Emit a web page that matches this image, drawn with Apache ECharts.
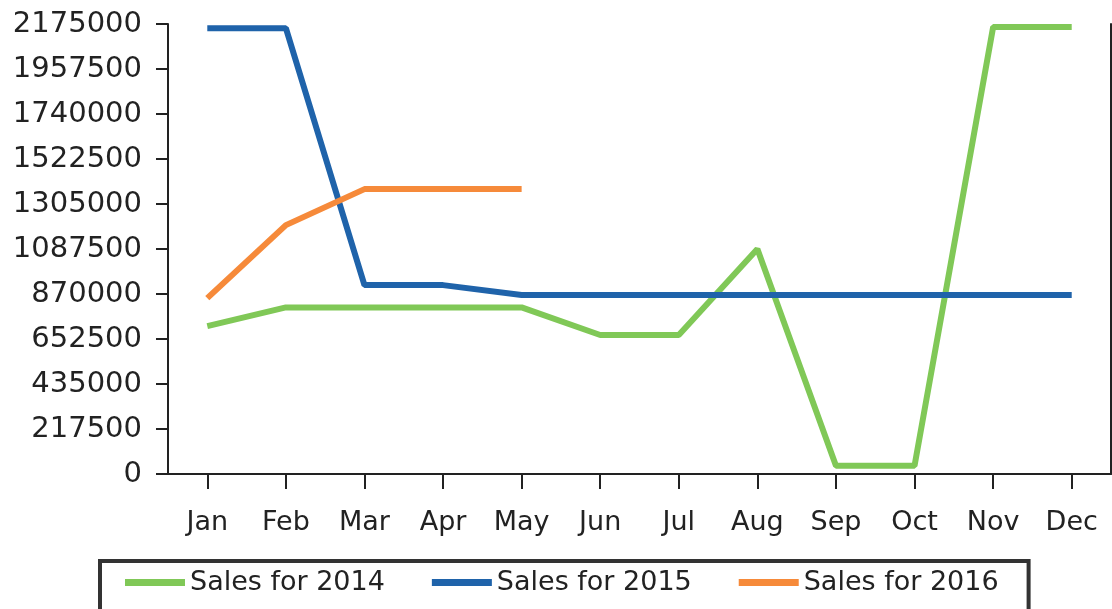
<!DOCTYPE html>
<html>
<head>
<meta charset="utf-8">
<script src="https://cdn.jsdelivr.net/npm/echarts@6/dist/echarts.min.js"></script>
<style>
  html, body { margin: 0; padding: 0; background: #fff; }
  #myChart { width: 1112px; height: 609px; }
</style>
</head>
<body>
<div id="myChart"></div>
<script>
const months = ['Jan', 'Feb', 'Mar', 'Apr', 'May', 'Jun', 'Jul', 'Aug', 'Sep', 'Oct', 'Nov', 'Dec']
const yTicks = [0, 217500, 435000, 652500, 870000, 1087500, 1305000, 1522500, 1740000, 1957500, 2175000]
const sales2014 = [715000, 805000, 805000, 805000, 805000, 672000, 672000, 1087500, 40000, 40000, 2160000, 2160000]
const sales2015 = [2155000, 2155000, 913000, 913000, 865000, 865000, 865000, 865000, 865000, 865000, 865000, 865000]
const sales2016 = [850000, 1203000, 1377000, 1377000, 1377000]

const font = 'DejaVu Sans'
const axisColor = '#222'

let myChart = echarts.init(document.getElementById('myChart'))

let option = {
  backgroundColor: '#fff',
  animation: false,
  textStyle: { fontFamily: font },
  grid: {
    left: 168,
    right: 1,
    top: 24,
    bottom: 135
  },
  legend: {
    data: ['Sales for 2014', 'Sales for 2015', 'Sales for 2016'],
    left: 100,
    top: 561,
    icon: 'rect',
    itemWidth: 60,
    itemHeight: 7,
    itemGap: 47,
    padding: [8, 30, 20, 25],
    borderColor: '#333',
    borderWidth: 4,
    textStyle: { fontFamily: font, fontSize: 27, color: '#222' }
  },
  xAxis: {
    type: 'category',
    data: months,
    boundaryGap: true,
    axisLine: { lineStyle: { color: axisColor, width: 2 } },
    axisTick: { show: true, alignWithLabel: true, interval: 0, length: 15, lineStyle: { color: axisColor, width: 2 } },
    axisLabel: { color: '#222', fontSize: 27, margin: 35, interval: 0, fontFamily: font }
  },
  yAxis: [
    {
      type: 'value',
      min: 0,
      max: 2175000,
      interval: 217500,
      axisLine: { show: true, lineStyle: { color: axisColor, width: 2 } },
      axisTick: { show: true, length: 12, lineStyle: { color: axisColor, width: 2 } },
      axisLabel: {
        color: '#222',
        fontSize: 29,
        margin: 26,
        fontFamily: font,
        formatter: function (v) { return yTicks.indexOf(v) >= 0 ? String(v) : '' }
      },
      splitLine: { show: false }
    },
    {
      type: 'value',
      position: 'right',
      min: 0,
      max: 2175000,
      interval: 217500,
      axisLine: { show: true, lineStyle: { color: axisColor, width: 2 } },
      axisTick: { show: false },
      axisLabel: { show: false },
      splitLine: { show: false }
    }
  ],
  series: [
    {
      name: 'Sales for 2014',
      type: 'line',
      symbol: 'none',
      data: sales2014,
      itemStyle: { color: '#80c857' },
      lineStyle: { color: '#80c857', width: 6 }
    },
    {
      name: 'Sales for 2015',
      type: 'line',
      symbol: 'none',
      data: sales2015,
      itemStyle: { color: '#1f63aa' },
      lineStyle: { color: '#1f63aa', width: 6 }
    },
    {
      name: 'Sales for 2016',
      type: 'line',
      symbol: 'none',
      data: sales2016,
      itemStyle: { color: '#f68a3a' },
      lineStyle: { color: '#f68a3a', width: 6 }
    }
  ]
}

myChart.setOption(option)
</script>
</body>
</html>
